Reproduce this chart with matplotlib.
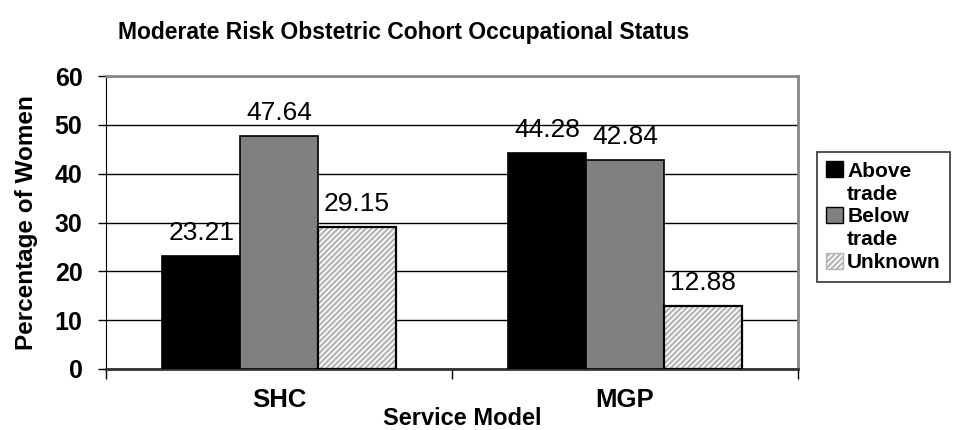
import numpy as np
import matplotlib
matplotlib.use('Agg')
import matplotlib.pyplot as plt
from matplotlib.patches import Patch

# 데이터
models = ['SHC', 'MGP']
series = ['Above\ntrade', 'Below\ntrade', 'Unknown']
above = [23.21, 44.28]
below = [47.64, 42.84]
unknown = [29.15, 12.88]
y_ticks = [0, 10, 20, 30, 40, 50, 60]

plt.rcParams['font.family'] = ['Liberation Sans', 'DejaVu Sans']
plt.rcParams['hatch.linewidth'] = 1.6
plt.rcParams['hatch.color'] = '#b4b4b4'

fig = plt.figure(figsize=(9.64, 4.30), dpi=100)
ax = fig.add_axes([106/964, 1-369/430, 692/964, 293/430])

x = np.arange(len(models))
w = 0.225
ax.bar(x - w, above, w, color='black', edgecolor='black', linewidth=1.2, zorder=3)
ax.bar(x, below, w, color='#808080', edgecolor='black', linewidth=1.2, zorder=3)
ax.bar(x + w, unknown, w, color='white', edgecolor='#b4b4b4', hatch='//////', linewidth=0, zorder=3)
ax.bar(x + w, unknown, w, fill=False, edgecolor='black', linewidth=1.6, zorder=4)

for xs, vals in [(x - w, above), (x, below), (x + w, unknown)]:
    for xi, v in zip(xs, vals):
        ax.annotate(f'{v:.2f}', (xi, v), xytext=(0, 8), textcoords='offset points',
                    ha='center', va='bottom', fontsize=19)

ax.set_xlim(-0.5, 1.5)
ax.set_ylim(0, 60)
ax.set_yticks(y_ticks)
ax.set_yticklabels([str(t) for t in y_ticks], fontsize=18, fontweight='bold')
ax.set_xticks(x)
ax.set_xticklabels(models, fontsize=18.5, fontweight='bold')
ax.tick_params(axis='x', length=0, pad=14)
ax.set_xticks([-0.5, 0.5, 1.5], minor=True)
ax.tick_params(axis='x', which='minor', length=7, width=1, direction='out')
ax.tick_params(axis='y', length=6, width=1, direction='out', pad=11)
ax.yaxis.grid(True, color='black', linewidth=1, zorder=0)
ax.set_axisbelow(True)

for s in ['top', 'right']:
    ax.spines[s].set_color('#888888')
    ax.spines[s].set_linewidth(2)
ax.spines['left'].set_color('black')
ax.spines['bottom'].set_color('#333333')
ax.spines['bottom'].set_linewidth(2)

ax.set_ylabel('Percentage of Women', fontsize=17.5, fontweight='bold', labelpad=12)
fig.text(462/964, 1-425/430, 'Service Model', fontsize=17, fontweight='bold',
         ha='center', va='baseline')
fig.text(118/964, 1-32/430, 'Moderate Risk Obstetric Cohort Occupational Status',
         fontsize=16.5, fontweight='bold', va='center', ha='left')

# 범례: 첫 줄에 사각형이 오도록 줄 단위로 분리
styles = [dict(facecolor='black', edgecolor='black'),
          dict(facecolor='#808080', edgecolor='black'),
          dict(facecolor='white', edgecolor='#b4b4b4', hatch='//////')]
handles, labels = [], []
for name, st in zip(series, styles):
    parts = name.split('\n')
    handles.append(Patch(**st))
    labels.append(parts[0])
    for p in parts[1:]:
        handles.append(Patch(facecolor='none', edgecolor='none'))
        labels.append(p)
leg = fig.legend(handles, labels, loc='upper left', bbox_to_anchor=(817/964, 1-152/430),
                 prop={'size': 15, 'weight': 'bold'}, frameon=True, fancybox=False,
                 handlelength=0.8, handleheight=0.8, handletextpad=0.2,
                 labelspacing=0.18, borderpad=0.45, borderaxespad=0)
leg.get_frame().set_edgecolor('black')
leg.get_frame().set_linewidth(1.2)

fig.savefig('out.png', dpi=100)
